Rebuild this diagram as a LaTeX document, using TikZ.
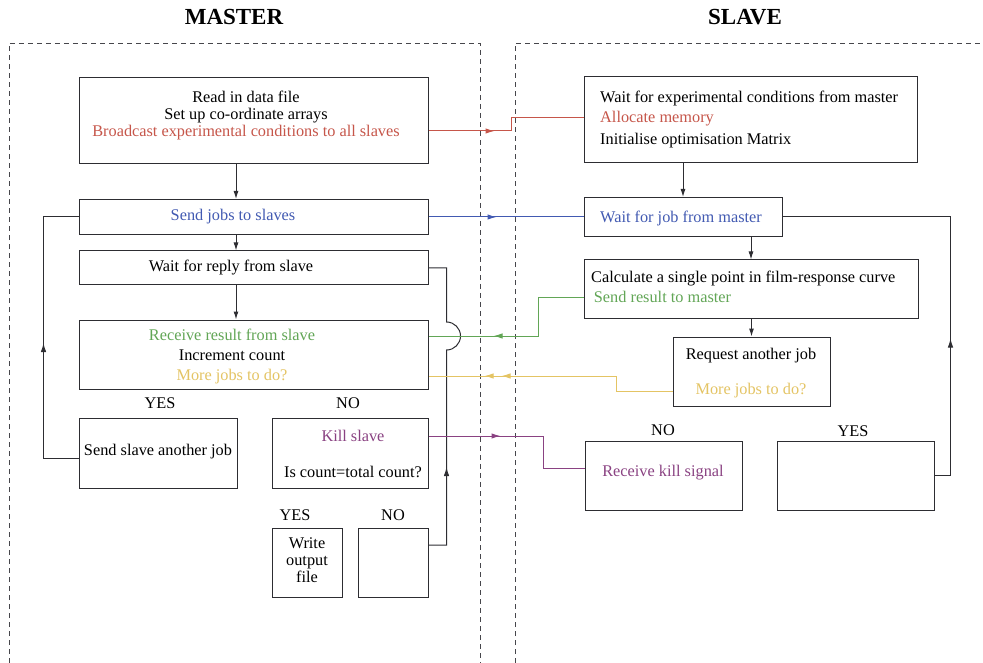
\documentclass[tikz,border=0pt]{standalone}
\usepackage{fontspec}
\setmainfont{Liberation Serif}
\usetikzlibrary{arrows.meta,positioning,calc,decorations.markings}
\definecolor{boxcol}{RGB}{45,45,50}
\definecolor{framecol}{RGB}{70,70,75}
\definecolor{bcastcol}{RGB}{198,86,74}
\definecolor{jobcol}{RGB}{66,90,178}
\definecolor{resultcol}{RGB}{98,166,86}
\definecolor{morecol}{RGB}{228,196,100}
\definecolor{killcol}{RGB}{138,66,130}
\tikzset{
  blk/.style    = {draw=boxcol, line width=1pt, inner sep=0pt, fill=white},
  txt/.style    = {inner sep=0pt, font=\fontsize{16.3}{17}\selectfont, align=center},
  ltxt/.style   = {txt, anchor=west, align=left},
  title/.style  = {inner sep=0pt, font=\fontsize{23}{26}\selectfont\bfseries},
  frame/.style  = {draw=framecol, line width=0.8pt, dash pattern=on 5pt off 4pt},
  flow/.style   = {draw=boxcol, line width=1pt, -{Latex[length=8pt,width=5pt]}},
  loopline/.style = {draw=boxcol, line width=1pt},
  msg/.style    = {line width=1pt},
  midtip/.style = {postaction={decorate, decoration={markings,
                   mark=at position #1 with {\arrow{Latex[length=9pt,width=5.5pt]}}}}}
}

\begin{document}
\begin{tikzpicture}[x=1pt,y=-1pt]
\useasboundingbox (0,0) rectangle (983,663);

% process frames
\draw[frame] (9,663) |- (480,43) -- (480,663);
\draw[frame] (515,663) |- (983,43);
\node[title] (mtitle) at (234,17) {MASTER};
\node[title] (stitle) at (745,17) {SLAVE};

% -------------------- Boxes --------------------

% name / centre x / centre y / width / height
\foreach \nm/\cx/\cy/\bw/\bh in {read/253.5/121/349/86, send/253.5/217/349/35,
    wait/253.5/268/349/34, recv/253.5/354.5/349/69,
    another/158/453/158/70, kill/350/453/156/70,
    write/307/562.5/70/69, notdone/393/562.5/70/69,
    setup/750.5/120/333/86, getjob/683/217/198/39,
    calc/751/289/334/58, request/751.5/371.5/157/69,
    killsig/663.5/475.5/157/69, idle/855.5/475.5/157/69}{
  \node[blk, minimum width=\bw pt, minimum height=\bh pt] (\nm) at (\cx,\cy) {};
}

% -------------------- Texts --------------------

% master
\node[txt] (readT) at (246,115) {Read in data file\\ Set up co-ordinate arrays\\
  \textcolor{bcastcol}{Broadcast experimental conditions to all slaves}};
\node[txt, text=jobcol] (sendT) at (233,217) {Send jobs to slaves};
\node[txt] (waitT) at (231,268) {Wait for reply from slave};
\node[txt] (recvT) at (232,356) {\textcolor{resultcol}{Receive result from slave}\\[3pt]
  Increment count\\[3pt] \textcolor{morecol}{More jobs to do?}};
\node[txt] (anotherT) at (158,452) {Send slave another job};
\node[txt] (killT) at (353,454) {\textcolor{killcol}{Kill slave}\\[19pt] Is count=total count?};
\node[txt] (writeT) at (307,560) {Write\\ output\\ file};

% slave
\node[ltxt] (setupT) at (600,119) {Wait for experimental conditions from master\\[3pt]
  \textcolor{bcastcol}{Allocate memory}\\[5pt] Initialise optimisation Matrix};
\node[ltxt, text=jobcol] (getjobT) at (600,218) {Wait for job from master};
\node[ltxt] (calcT) at (591,287) {Calculate a single point in film-response curve\\[3pt]
  \,\textcolor{resultcol}{Send result to master}};
\node[txt] (requestT) at (751,373.5) {Request another job\\[18pt] \textcolor{morecol}{More jobs to do?}};
\node[txt, text=killcol] (killsigT) at (663,473) {Receive kill signal};

% decision labels
\node[txt] (yes1) at (160,403) {YES};
\node[txt] (no1)  at (348,403) {NO};
\node[txt] (yes2) at (295,515) {YES};
\node[txt] (no2)  at (393,515) {NO};
\node[txt] (no3)  at (663,430) {NO};
\node[txt] (yes3) at (853,431) {YES};

% -------------------- Flow inside each process --------------------

\draw[flow] ([xshift=-17.5pt]read.south) -- ([xshift=-17.5pt]send.north);
\draw[flow] ([xshift=-17.5pt]send.south) -- ([xshift=-17.5pt]wait.north);
\draw[flow] ([xshift=-17.5pt]wait.south) -- ([xshift=-17.5pt]recv.north);
\draw[loopline, midtip=150pt] ([yshift=-5pt]another.west) -- ++(-35,0) |- (send.west);
\draw[loopline, midtip=96pt] ([yshift=17.5pt]notdone.east) -- ++(18,0) -- ++(0,-195)
  arc[start angle=90, end angle=-90, radius=14] |- (wait.east);

\draw[flow] (getjob.north |- setup.south) -- (getjob.north);
\draw[flow] (calc.north |- getjob.south) -- (calc.north);
\draw[flow] (request.north |- calc.south) -- (request.north);
\draw[loopline, midtip=153pt] (idle.east) -- ++(16,0) |- (getjob.east);

% -------------------- Messages between master and slave --------------------

\draw[msg, bcastcol, midtip=66pt] ([yshift=-10pt]read.east) -- ++(83,0) |- ([yshift=2pt]setup.west);
\draw[msg, jobcol, midtip=68pt] (send.east) -- (getjob.west);
\draw[msg, resultcol, midtip=129pt] ([yshift=-8pt]calc.west) -- ++(-45,0) |- ([yshift=18.5pt]recv.east);
\draw[msg, morecol, midtip=186pt, midtip=203pt] ([yshift=-19.5pt]request.west) -- ++(-56,0)
  |- ([yshift=-21.5pt]recv.east);
\draw[msg, killcol, midtip=72pt] ([yshift=17pt]kill.east) -- ++(115,0) |- ([yshift=7.5pt]killsig.west);

\end{tikzpicture}
\end{document}
